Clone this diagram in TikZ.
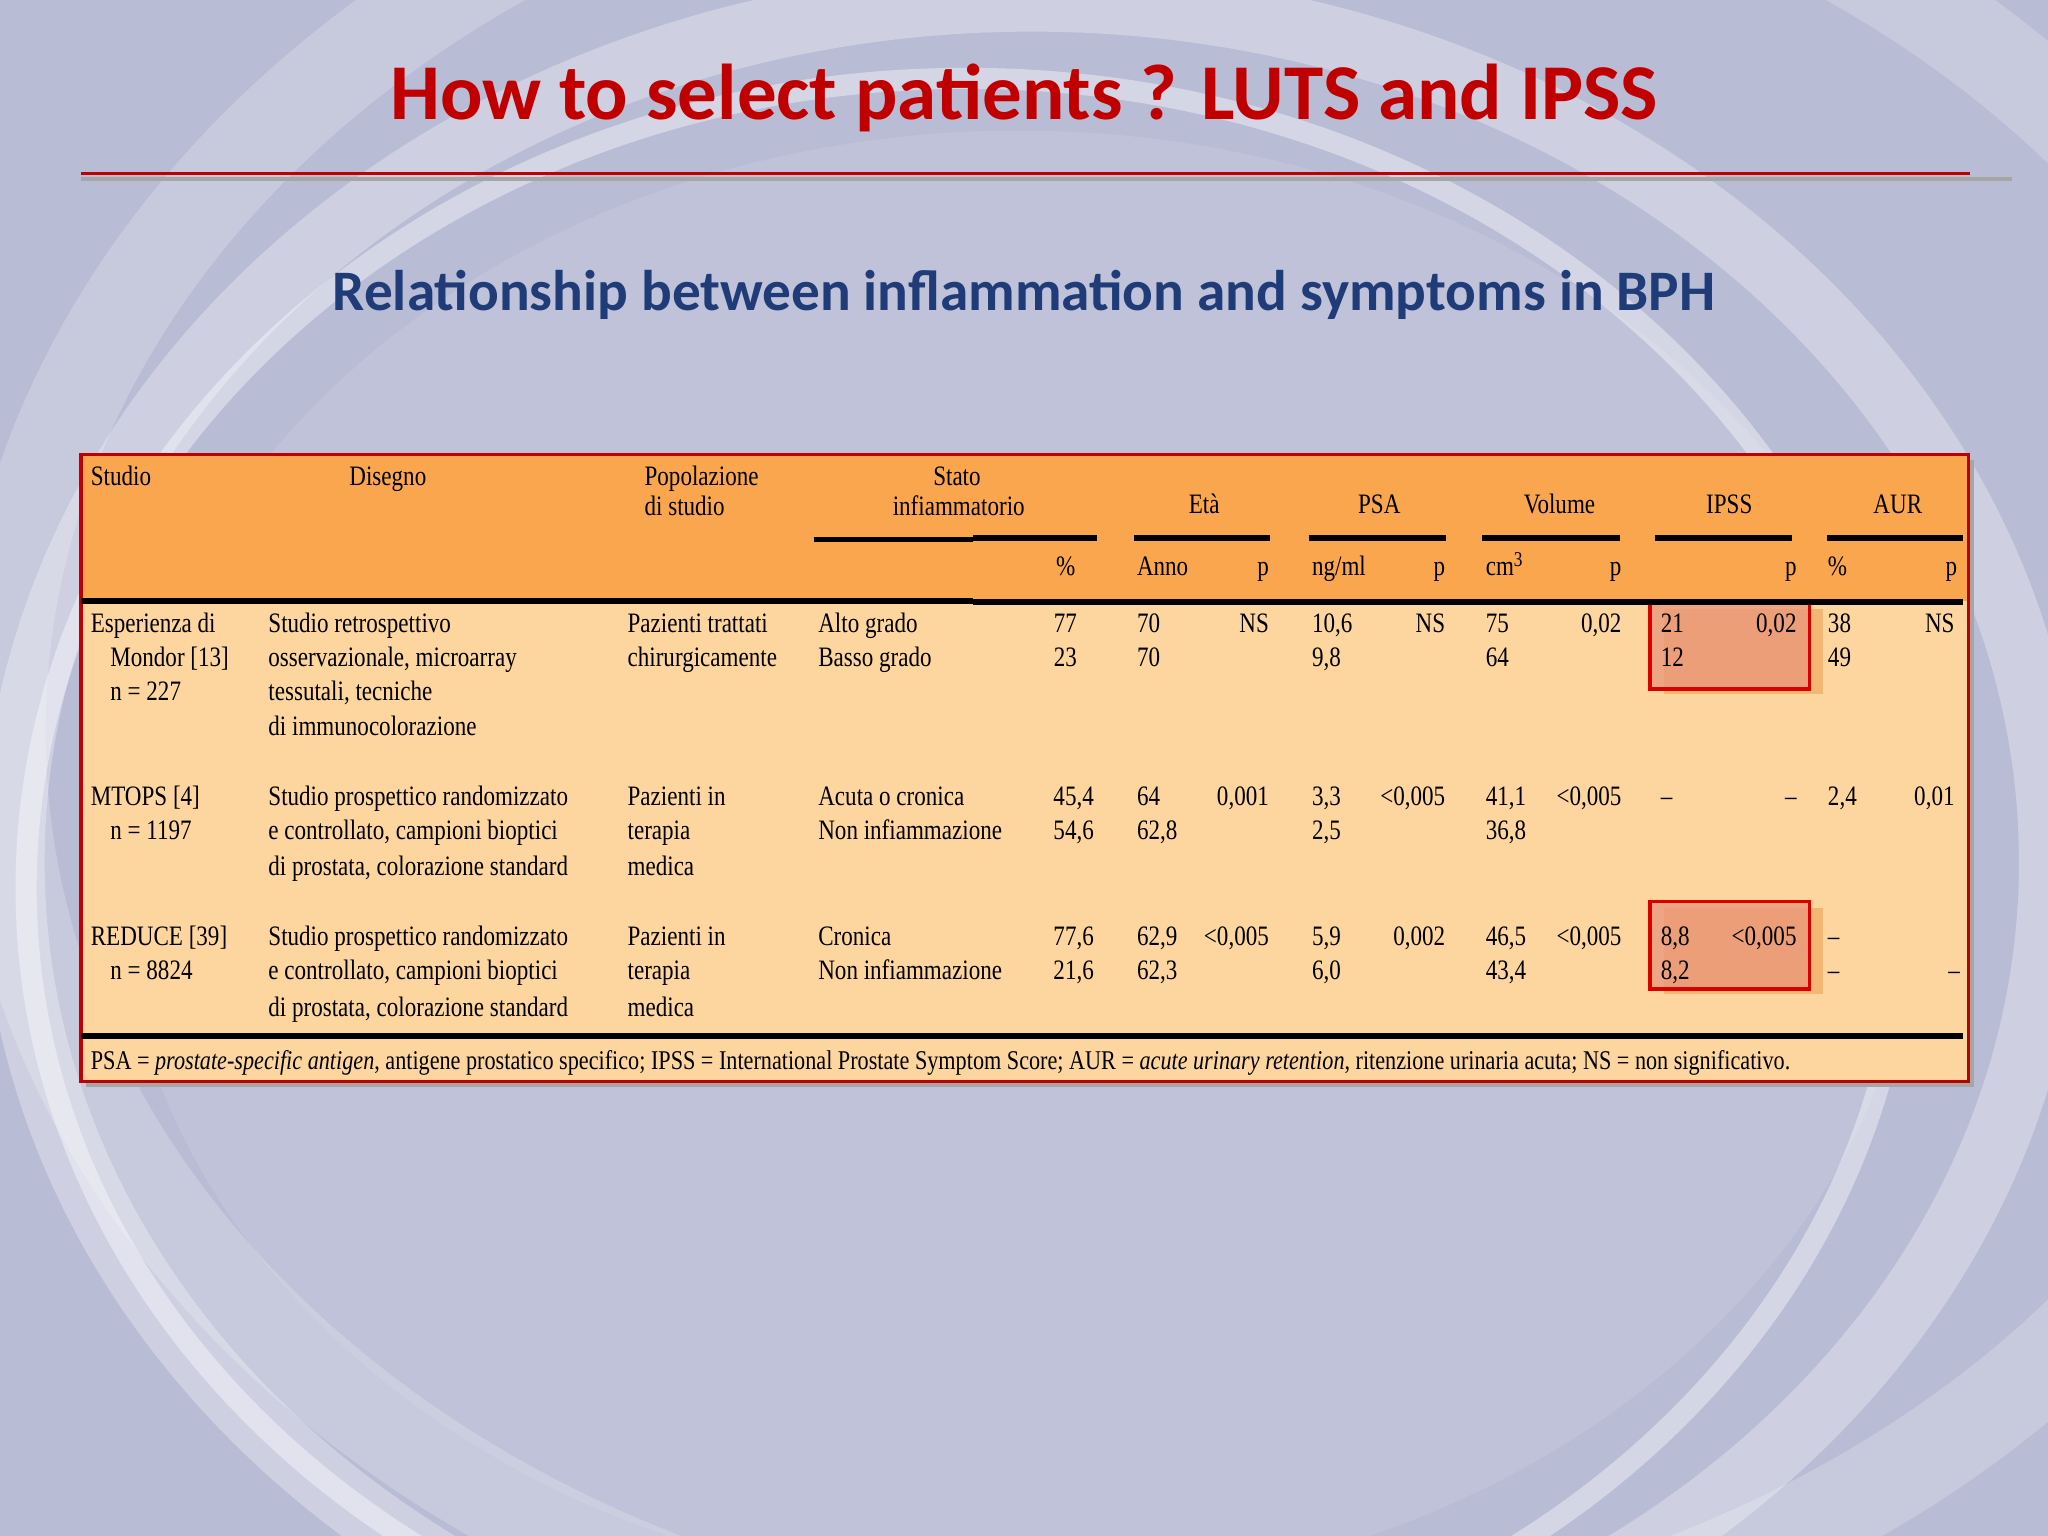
\documentclass[tikz,border=0pt]{standalone}
\usepackage{fontspec}
\newfontfamily\ttl{Carlito}
\newfontfamily\tf[FakeStretch=0.82]{Liberation Serif}
\definecolor{bgc}{HTML}{B9BCD5}
\definecolor{ttred}{HTML}{C00000}
\definecolor{subbl}{HTML}{1F3C78}
\definecolor{hdr}{HTML}{F9A64F}
\definecolor{bdy}{HTML}{FDD59E}
\definecolor{hil}{HTML}{E9967A}
\begin{document}
\begin{tikzpicture}[x=0.013061cm,y=-0.013061cm,
  tx/.style={font=\tf\fontsize{8pt}{9pt}\selectfont,inner sep=0pt,anchor=base west},
  tr/.style={tx,anchor=base east},
  tc/.style={tx,anchor=base},
  grp/.style={line width=1.6pt,black},
  hbox/.style={draw=red!85!black,line width=1pt,fill=hil,fill opacity=0.75}]
\useasboundingbox (0,0) rectangle (1568,1176);
\fill[bgc] (0,0) rectangle (1568,1176);
% swooshes
\begin{scope}
\clip (0,0) rectangle (1568,1176);
\draw[white,opacity=0.3,line width=18pt] (790,660) ellipse (780 and 660);
\draw[white,opacity=0.4,line width=6pt] (740,680) ellipse (720 and 620);
\draw[white,opacity=0.2,line width=26pt] (900,560) ellipse (900 and 720);
\fill[white,opacity=0.10] (780,660) ellipse (690 and 560);
\end{scope}
% title
\node[font=\ttl\bfseries\fontsize{22.5pt}{27pt}\selectfont,text=ttred] (title) at (784,75) {How to select patients ? LUTS and IPSS};
\coordinate (l1) at (62,133); \coordinate (l2) at (1508,133);
\draw[gray!70,line width=1.2pt] ([yshift=-1.5]l1) -- ([xshift=12,yshift=-1.5]l2);
\draw[ttred,line width=0.9pt] (l1) -- (l2);
\node[font=\ttl\bfseries\fontsize{16.3pt}{20pt}\selectfont,text=subbl] (sub) at (784,226) {Relationship between inflammation and symptoms in BPH};
% table
\fill[black!35] (66,352) rectangle (1511,832);
\fill[bdy] (62,348) rectangle (1507,828);
\fill[hdr] (62,348) rectangle (1507,460);
% highlights
\fill[hdr!70!brown,opacity=0.5] (1274,466) rectangle (1396,531);
\fill[hdr!70!brown,opacity=0.5] (1274,695) rectangle (1396,761);
\node[hbox,minimum width=122*0.013061cm,minimum height=66*0.013061cm,anchor=north west] (h1) at (1262,460) {};
\node[hbox,minimum width=122*0.013061cm,minimum height=67*0.013061cm,anchor=north west] (h2) at (1262,689) {};
\draw[ttred,line width=1pt] (62,348) rectangle (1507,828);
% header lines
\draw[grp] (623,413) -- (745,413); \draw[grp] (745,412) -- (840,412);
\draw[grp] (868,412) -- (972,412); \draw[grp] (1002,412) -- (1107,412);
\draw[grp] (1135,412) -- (1240,412); \draw[grp] (1267,412) -- (1372,412);
\draw[grp] (1399,412) -- (1503,412);
\draw[grp] (62,460) -- (745,460); \draw[grp] (745,461) -- (1503,461);
\draw[grp] (62,793) -- (1503,793);
% header text
\node[tx] (hs) at (69,372) {Studio};
\node[tx] (hd) at (267,372) {Disegno};
\node[tx] (hp1) at (493,372) {Popolazione};
\node[tx] (hp2) at (493,395) {di studio};
\node[tx] (hst1) at (714,372) {Stato};
\node[tx] (hst2) at (683,395) {infiammatorio};
\node[tc] (he) at (922,393) {Età};
\node[tc] (hpsa) at (1056,393) {PSA};
\node[tc] (hv) at (1194,393) {Volume};
\node[tc] (hi) at (1324,393) {IPSS};
\node[tc] (ha) at (1453,393) {AUR};
\node[tc] (s1) at (816,441) {\%};
\node[tx] (s2) at (870,441) {Anno};
\node[tr] (s3) at (972,441) {p};
\node[tx] (s4) at (1004,441) {ng/ml};
\node[tr] (s5) at (1107,441) {p};
\node[tx] (s6) at (1137,441) {cm\textsuperscript{3}};
\node[tr] (s7) at (1242,441) {p};
\node[tr] (s8) at (1376,441) {p};
\node[tx] (s9) at (1399,441) {\%};
\node[tr] (s10) at (1499,441) {p};
% row 1
\node[tx] (a1) at (69,484) {Esperienza di};
\node[tx] (a2) at (84,510) {Mondor [13]};
\node[tx] (a3) at (84,536) {n = 227};
\node[tx] (b1) at (205,484) {Studio retrospettivo};
\node[tx] (b2) at (205,510) {osservazionale, microarray};
\node[tx] (b3) at (205,536) {tessutali, tecniche};
\node[tx] (b4) at (205,563) {di immunocolorazione};
\node[tx] (c1) at (480,484) {Pazienti trattati};
\node[tx] (c2) at (480,510) {chirurgicamente};
\node[tx] (d1) at (626,484) {Alto grado};
\node[tx] (d2) at (626,510) {Basso grado};
\node[tr] (e1) at (825,484) {77}; \node[tr] (e2) at (825,510) {23};
\node[tx] (f1) at (870,484) {70}; \node[tx] (f2) at (870,510) {70};
\node[tr] (g1) at (972,484) {NS};
\node[tx] (i1) at (1004,484) {10,6}; \node[tx] (i2) at (1004,510) {9,8};
\node[tr] (j1) at (1107,484) {NS};
\node[tx] (k1) at (1137,484) {75}; \node[tx] (k2) at (1137,510) {64};
\node[tr] (m1) at (1242,484) {0,02};
\node[tx] (n1) at (1271,484) {21}; \node[tx] (n2) at (1271,510) {12};
\node[tr] (o1) at (1376,484) {0,02};
\node[tx] (q1) at (1399,484) {38}; \node[tx] (q2) at (1399,510) {49};
\node[tr] (r1) at (1497,484) {NS};
% row 2
\node[tx] (a4) at (69,617) {MTOPS [4]};
\node[tx] (a5) at (84,643) {n = 1197};
\node[tx] (b5) at (205,617) {Studio prospettico randomizzato};
\node[tx] (b6) at (205,643) {e controllato, campioni bioptici};
\node[tx] (b7) at (205,670) {di prostata, colorazione standard};
\node[tx] (c3) at (480,617) {Pazienti in};
\node[tx] (c4) at (480,643) {terapia};
\node[tx] (c5) at (480,670) {medica};
\node[tx] (d3) at (626,617) {Acuta o cronica};
\node[tx] (d4) at (626,643) {Non infiammazione};
\node[tr] (e3) at (838,617) {45,4}; \node[tr] (e4) at (838,643) {54,6};
\node[tx] (f3) at (870,617) {64}; \node[tx] (f4) at (870,643) {62,8};
\node[tr] (g2) at (972,617) {0,001};
\node[tx] (i3) at (1004,617) {3,3}; \node[tx] (i4) at (1004,643) {2,5};
\node[tr] (j2) at (1107,617) {<0,005};
\node[tx] (k3) at (1137,617) {41,1}; \node[tx] (k4) at (1137,643) {36,8};
\node[tr] (m2) at (1242,617) {<0,005};
\node[tx] (n3) at (1271,617) {–};
\node[tr] (o2) at (1376,617) {–};
\node[tx] (q3) at (1399,617) {2,4};
\node[tr] (r2) at (1497,617) {0,01};
% row 3
\node[tx] (a6) at (69,724) {REDUCE [39]};
\node[tx] (a7) at (84,750) {n = 8824};
\node[tx] (b8) at (205,724) {Studio prospettico randomizzato};
\node[tx] (b9) at (205,750) {e controllato, campioni bioptici};
\node[tx] (b10) at (205,778) {di prostata, colorazione standard};
\node[tx] (c6) at (480,724) {Pazienti in};
\node[tx] (c7) at (480,750) {terapia};
\node[tx] (c8) at (480,778) {medica};
\node[tx] (d5) at (626,724) {Cronica};
\node[tx] (d6) at (626,750) {Non infiammazione};
\node[tr] (e5) at (838,724) {77,6}; \node[tr] (e6) at (838,750) {21,6};
\node[tx] (f5) at (870,724) {62,9}; \node[tx] (f6) at (870,750) {62,3};
\node[tr] (g3) at (972,724) {<0,005};
\node[tx] (i5) at (1004,724) {5,9}; \node[tx] (i6) at (1004,750) {6,0};
\node[tr] (j3) at (1107,724) {0,002};
\node[tx] (k5) at (1137,724) {46,5}; \node[tx] (k6) at (1137,750) {43,4};
\node[tr] (m3) at (1242,724) {<0,005};
\node[tx] (n5) at (1271,724) {8,8}; \node[tx] (n6) at (1271,750) {8,2};
\node[tr] (o3) at (1376,724) {<0,005};
\node[tx] (q5) at (1399,724) {–}; \node[tx] (q6) at (1399,750) {–};
\node[tr] (r3) at (1501,750) {–};
% footnote
\node[tx,font=\tf\fontsize{7.7pt}{9pt}\selectfont] (fn) at (69,819) {PSA = \textit{prostate-specific antigen}, antigene prostatico specifico; IPSS = International Prostate Symptom Score; AUR = \textit{acute urinary retention}, ritenzione urinaria acuta; NS = non significativo.};
\end{tikzpicture}
\end{document}
